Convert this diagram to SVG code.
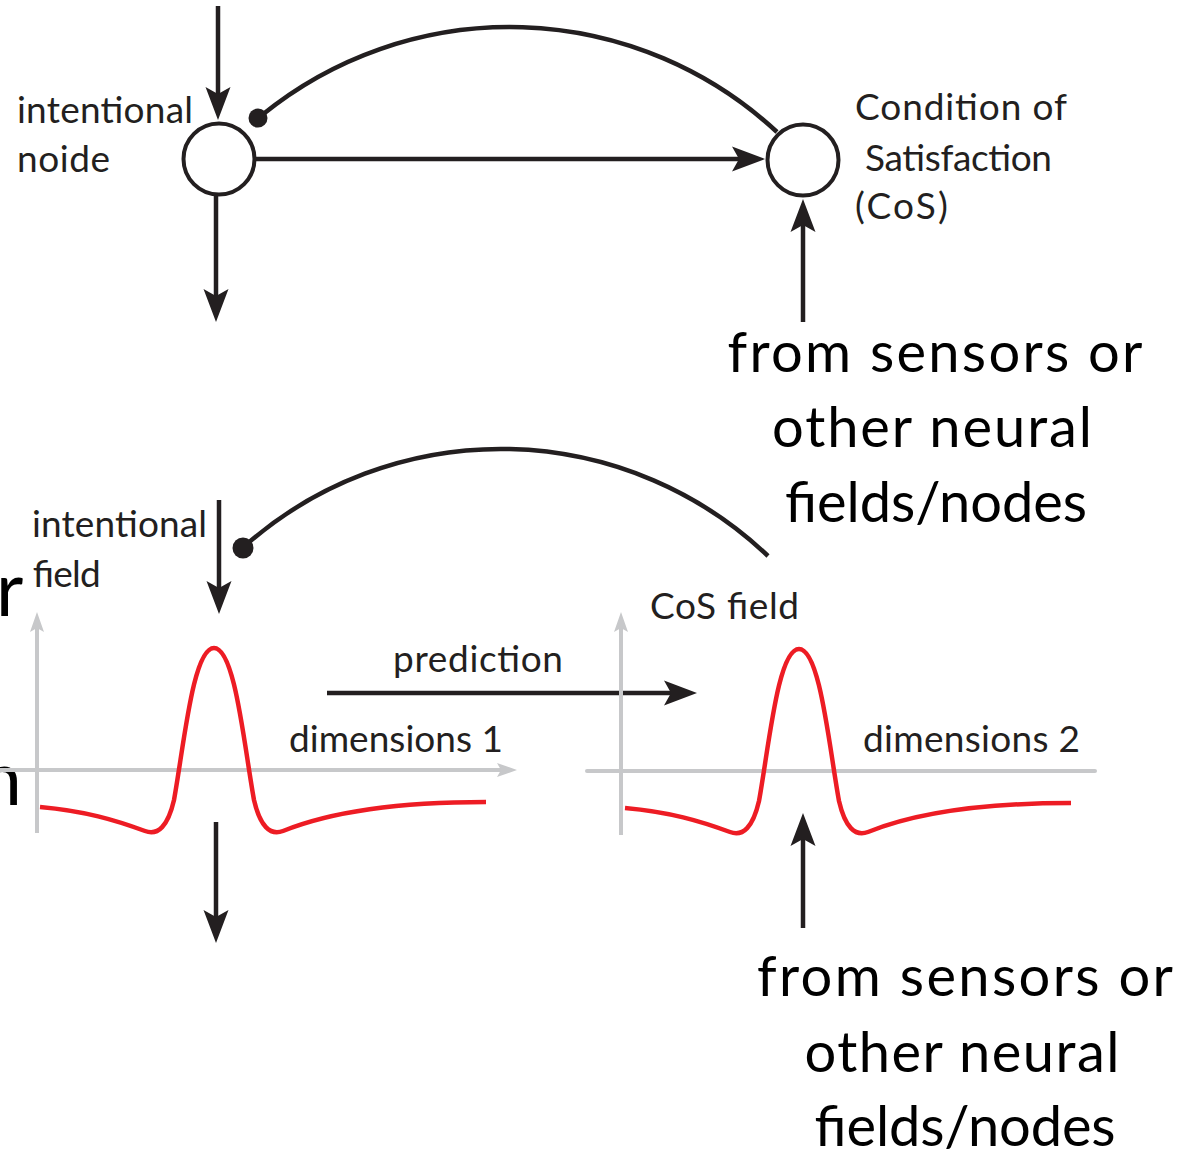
<svg xmlns="http://www.w3.org/2000/svg" width="1179" height="1151" viewBox="0 0 1179 1151">
<style>
  .lbl { font-family: Lato, "Open Sans", "Liberation Sans", sans-serif; font-size: 37px; fill: #231f20; }
  .big { font-family: Lato, "Open Sans", "Liberation Sans", sans-serif; font-size: 56px; fill: #000; }
  .frag { font-family: Lato, "Open Sans", "Liberation Sans", sans-serif; font-size: 75px; fill: #000; }
  .conn { stroke: #231f20; stroke-width: 4.5; fill: none; }
  .node { stroke: #231f20; stroke-width: 4; fill: #fff; }
  .axis { stroke: #c7c8ca; stroke-width: 4; fill: none; }
  .act { stroke: #ed1c24; stroke-width: 4.5; fill: none; }
  .dot { fill: #231f20; }
</style>
<defs>
  <marker id="arr" markerUnits="userSpaceOnUse" orient="auto" overflow="visible" refX="0" refY="0" markerWidth="1" markerHeight="1">
    <path d="M20,0 L-13,-12.5 L-6,0 L-13,12.5 Z" fill="#231f20"/>
  </marker>
  <marker id="garr" markerUnits="userSpaceOnUse" orient="auto" overflow="visible" refX="0" refY="0" markerWidth="1" markerHeight="1">
    <path d="M14,0 L-6,-7 L-2,0 L-6,7 Z" fill="#c7c8ca"/>
  </marker>
</defs>
<rect width="1179" height="1151" fill="#fff"/>

<!-- cut-off text fragments at the left edge, as in the source picture -->
<text class="frag" x="-4" y="616">r</text>
<text class="frag" x="-20" y="805">n</text>

<g id="connectors">
  <!-- top section -->
  <line class="conn" x1="218" y1="6" x2="218" y2="100" marker-end="url(#arr)"/>
  <line class="conn" x1="216" y1="195" x2="216" y2="302" marker-end="url(#arr)"/>
  <line class="conn" x1="255" y1="159" x2="745" y2="159" marker-end="url(#arr)"/>
  <line class="conn" x1="803" y1="322" x2="803" y2="219" marker-end="url(#arr)"/>
  <path class="conn" d="M262,115 A392.6,392.6 0 0 1 777,132"/>
  <circle class="dot" cx="258" cy="118" r="9.5"/>
  <!-- bottom section -->
  <line class="conn" x1="219" y1="500" x2="219" y2="594" marker-end="url(#arr)"/>
  <line class="conn" x1="216" y1="822" x2="216" y2="923" marker-end="url(#arr)"/>
  <line class="conn" x1="327" y1="693" x2="677" y2="693" marker-end="url(#arr)"/>
  <line class="conn" x1="803" y1="928" x2="803" y2="833" marker-end="url(#arr)"/>
  <path class="conn" d="M247,544 A386.8,386.8 0 0 1 768,556"/>
  <circle class="dot" cx="243" cy="548" r="10.5"/>
</g>

<g id="intentional-node">
  <circle class="node" cx="219" cy="159" r="35.5"/>
  <text class="lbl" x="17" y="123" textLength="176" lengthAdjust="spacing">intentional</text>
  <text class="lbl" x="17" y="172" textLength="93" lengthAdjust="spacing">noide</text>
</g>

<g id="cos-node">
  <circle class="node" cx="803" cy="160" r="35.5"/>
  <text class="lbl" x="855" y="120" textLength="212" lengthAdjust="spacing">Condition of</text>
  <text class="lbl" x="865" y="171" textLength="187" lengthAdjust="spacing">Satisfaction</text>
  <text class="lbl" x="855" y="219" textLength="93" lengthAdjust="spacing">(CoS)</text>
</g>

<g id="source-top">
  <text class="big" text-anchor="middle" x="935" y="372" textLength="415" lengthAdjust="spacing">from sensors or</text>
  <text class="big" text-anchor="middle" x="932" y="447" textLength="320" lengthAdjust="spacing">other neural</text>
  <text class="big" text-anchor="middle" x="936" y="522" textLength="302" lengthAdjust="spacing">fields/nodes</text>
</g>

<g id="intentional-field">
  <line class="axis" x1="37" y1="833" x2="37" y2="626" marker-end="url(#garr)"/>
  <line class="axis" x1="0" y1="770" x2="503" y2="770" marker-end="url(#garr)"/>
  <path class="act" d="M40,807 C85,811 115,820 145,831 C158,836 168,826 174,800 C184,745 193,648 214,648 C235,648 244,745 254,800 C260,826 270,836 283,831 C330,812 400,802 486,802"/>
  <text class="lbl" x="32" y="537" textLength="175" lengthAdjust="spacing">intentional</text>
  <text class="lbl" x="32" y="587" textLength="68" lengthAdjust="spacing">field</text>
  <text class="lbl" x="289" y="752" textLength="214" lengthAdjust="spacing">dimensions 1</text>
  <text class="lbl" x="393" y="672" textLength="170" lengthAdjust="spacing">prediction</text>
</g>

<g id="cos-field">
  <line class="axis" x1="621" y1="835" x2="621" y2="626" marker-end="url(#garr)"/>
  <line class="axis" x1="587" y1="771" x2="1095" y2="771" stroke-linecap="round"/>
  <path class="act" transform="translate(585,1)" d="M40,807 C85,811 115,820 145,831 C158,836 168,826 174,800 C184,745 193,648 214,648 C235,648 244,745 254,800 C260,826 270,836 283,831 C330,812 400,802 486,802"/>
  <text class="lbl" x="650" y="619" textLength="149" lengthAdjust="spacing">CoS field</text>
  <text class="lbl" x="863" y="752" textLength="217" lengthAdjust="spacing">dimensions 2</text>
</g>

<g id="source-bottom">
  <text class="big" text-anchor="middle" x="965" y="996" textLength="416" lengthAdjust="spacing">from sensors or</text>
  <text class="big" text-anchor="middle" x="962" y="1072" textLength="315" lengthAdjust="spacing">other neural</text>
  <text class="big" text-anchor="middle" x="965" y="1146" textLength="301" lengthAdjust="spacing">fields/nodes</text>
</g>
</svg>
